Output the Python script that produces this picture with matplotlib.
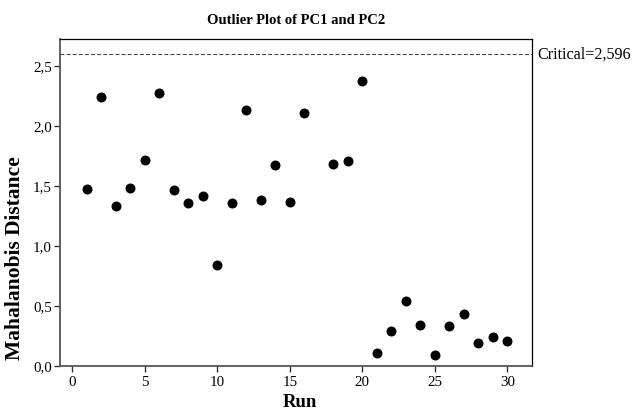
import numpy as np
import matplotlib
matplotlib.use('Agg')
import matplotlib.pyplot as plt
from matplotlib.ticker import FuncFormatter

plt.rcParams['font.family'] = ['Liberation Serif', 'DejaVu Serif']

run = [1, 2, 3, 4, 5, 6, 7, 8, 9, 10, 11, 12, 13, 14, 15, 16,
       18, 19, 20, 21, 22, 23, 24, 25, 26, 27, 28, 29, 30]
dist = [1.475, 2.242, 1.331, 1.486, 1.714, 2.272, 1.464, 1.358, 1.417, 0.839,
        1.358, 2.136, 1.386, 1.675, 1.367, 2.108,
        1.686, 1.706, 2.378, 0.111, 0.292, 0.542, 0.342, 0.092, 0.331,
        0.436, 0.189, 0.244, 0.206]
critical = 2.596

fig = plt.figure(figsize=(6.32, 4.13), dpi=100)
ax = fig.add_axes([60/632, 47/413, 472/632, 327/413])

ax.scatter(run, dist, s=38, color='black', zorder=3)
ax.axhline(critical, color='#444444', linestyle=(0, (3.5, 2)), linewidth=0.8)
ax.text(1.011, critical, 'Critical=2,596', transform=ax.get_yaxis_transform(),
        ha='left', va='center', fontsize=11.6)

ax.set_xlim(-0.85, 31.7)
ax.set_ylim(0, 2.725)
ax.set_xticks([0, 5, 10, 15, 20, 25, 30])
ax.set_yticks([0, 0.5, 1.0, 1.5, 2.0, 2.5])
ax.yaxis.set_major_formatter(FuncFormatter(lambda v, p: f'{v:.1f}'.replace('.', ',')))
ax.tick_params(direction='out', length=4, width=1, labelsize=10.8, color='#333333')
ax.tick_params(axis='y', pad=2)

for s in ['left', 'bottom']:
    ax.spines[s].set_color('#555555')
    ax.spines[s].set_linewidth(1.3)
for s in ['top', 'right']:
    ax.spines[s].set_color('black')
    ax.spines[s].set_linewidth(0.9)

ax.set_title('Outlier Plot of PC1 and PC2', fontsize=10.5, fontweight='bold', pad=11)
ax.set_xlabel('Run', fontsize=13.5, fontweight='bold')
ax.set_ylabel('Mahalanobis Distance', fontsize=15.5, fontweight='bold')
ax.xaxis.set_label_coords(0.508, -0.085)
ax.yaxis.set_label_coords(-0.074, 0.33)

fig.savefig('out.png', dpi=100)
